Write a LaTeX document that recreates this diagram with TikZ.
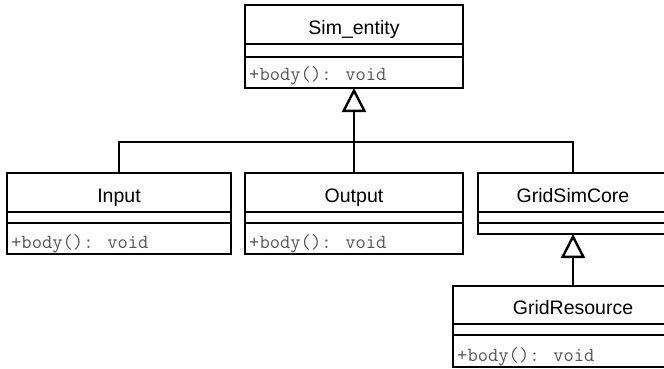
\documentclass[tikz,border=0pt]{standalone}
\usepackage{fontspec}
\setmainfont{Liberation Sans}
\usetikzlibrary{arrows.meta}
\definecolor{methgray}{RGB}{85,85,85}
\tikzset{
  classbox/.style={draw, line width=2.4pt, inner sep=0pt, outer sep=0pt, anchor=north west},
  cname/.style={anchor=base, inner sep=0pt, font=\fontsize{19.5}{19.5}\selectfont},
  cmeth/.style={anchor=base west, inner sep=0pt, text=methgray, font=\ttfamily\fontsize{20}{20}\selectfont},
  sep/.style={line width=2.4pt},
  conn/.style={line width=2.4pt},
  inh/.style={line width=2.4pt, -{Triangle[open, length=24pt, width=24pt, line width=2.4pt]}}
}
\begin{document}
\begin{tikzpicture}[x=1pt, y=-1pt]
\useasboundingbox (0,0) rectangle (664,369);
% Sim_entity
\node[classbox, minimum width=218pt, minimum height=83pt] (sim) at (245,5) {};
\draw[sep] (245,44) -- (463,44) (245,57) -- (463,57);
\node[cname] (simn) at (354,35) {Sim\_entity};
\node[cmeth] (simm) at (249,81) {+body(): void};
% Input
\node[classbox, minimum width=224pt, minimum height=81pt] (input) at (7,173) {};
\draw[sep] (7,212) -- (231,212) (7,223) -- (231,223);
\node[cname] (inputn) at (119,202) {Input};
\node[cmeth] (inputm) at (11,248) {+body(): void};
% Output
\node[classbox, minimum width=218pt, minimum height=81pt] (output) at (245,173) {};
\draw[sep] (245,212) -- (463,212) (245,223) -- (463,223);
\node[cname] (outputn) at (354,202) {Output};
\node[cmeth] (outputm) at (249,248) {+body(): void};
% GridSimCore
\node[classbox, minimum width=190pt, minimum height=61pt] (gsc) at (478,173) {};
\draw[sep] (478,212) -- (668,212) (478,223) -- (668,223);
\node[cname] (gscn) at (573,202) {GridSimCore};
% GridResource
\node[classbox, minimum width=240pt, minimum height=81pt] (gr) at (453,286) {};
\draw[sep] (453,324) -- (693,324) (453,335) -- (693,335);
\node[cname] (grn) at (573,314) {GridResource};
\node[cmeth] (grm) at (457,361) {+body(): void};
% connectors
\coordinate (j) at (354,142);
\draw[conn] (input.north) |- (j) -| (gsc.north);
\draw[conn] (output.north) -- (j);
\draw[inh] (j) -- (sim.south);
\draw[inh] (gr.north -| gsc.south) -- (gsc.south);
\end{tikzpicture}
\end{document}
